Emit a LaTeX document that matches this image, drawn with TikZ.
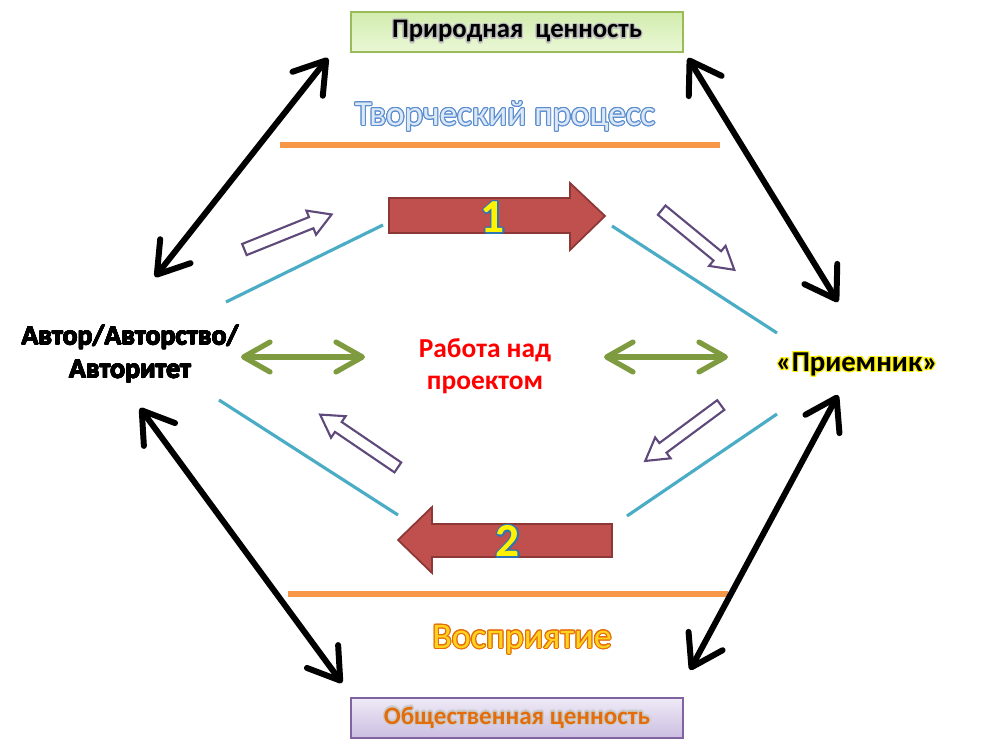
\documentclass[tikz,border=0pt]{standalone}
\usepackage{fontspec}
\setmainfont{Carlito}
\usepackage[copies]{contour}
\contourlength{0.7pt}
\usetikzlibrary{arrows.meta}

\definecolor{arrowred}{HTML}{C0504D}
\definecolor{arrowedge}{HTML}{8C3836}
\definecolor{linecyan}{HTML}{4BACC6}
\definecolor{barorange}{HTML}{F79646}
\definecolor{hollowpurple}{HTML}{5F497A}
\definecolor{olivegreen}{HTML}{7F9B3F}
\definecolor{greentop}{HTML}{D2ECAE}
\definecolor{greenbottom}{HTML}{EAF8D6}
\definecolor{greenedge}{HTML}{9BBB59}
\definecolor{lilactop}{HTML}{EFEAF6}
\definecolor{lilacbottom}{HTML}{CBBEE1}
\definecolor{lilacedge}{HTML}{8064A2}
\definecolor{textorange}{HTML}{E46C0A}
\definecolor{textyellow}{HTML}{FFD21F}
\definecolor{processfill}{HTML}{DCE8F6}
\definecolor{processedge}{HTML}{5B8ED0}
\definecolor{numberedge}{HTML}{2E75B6}

\begin{document}
\begin{tikzpicture}[x=0.02cm,y=-0.02cm,
  every node/.style={font=\bfseries},
  valuebox/.style={line width=0.8pt,minimum width=6.64cm,minimum height=0.8cm,inner sep=0pt},
  blackarr/.style={line width=3.4pt,{Straight Barb[length=17pt,width=22pt,round]}-{Straight Barb[length=17pt,width=22pt,round]}},
  greenarr/.style={line width=3pt,olivegreen,{Straight Barb[length=15pt,width=17pt,round]}-{Straight Barb[length=15pt,width=17pt,round]}},
  cyanline/.style={line width=1.8pt,linecyan},
  orangebar/.style={line width=3.6pt,barorange},
  redarrow/.style={fill=arrowred,draw=arrowedge,line width=1pt},
  hollowarr/.style={draw=hollowpurple,line width=1.2pt,fill=white,line join=miter}]
\useasboundingbox (0,0) rectangle (991,746);

% boxes and labels
\node[valuebox,draw=greenedge,top color=greentop,bottom color=greenbottom,
  font=\bfseries\fontsize{15.2}{17}\selectfont] (natural) at (517,32)
  {\contour{gray!50}{Природная\ \ ценность}};
\node[valuebox,draw=lilacedge,top color=lilactop,bottom color=lilacbottom,
  font=\bfseries\fontsize{14.3}{16}\selectfont] (social) at (517,718)
  {\color{textorange}\contour{gray!40}{Общественная ценность}};
\node[font=\mdseries\fontsize{20}{22}\selectfont] (process) at (505,117)
  {\contourlength{0.6pt}\color{processfill}\contour{processedge}{Творческий процесс}};
\node[font=\mdseries\fontsize{20.5}{22}\selectfont] (perception) at (522,640)
  {\contourlength{0.6pt}\color{textyellow}\contour{textorange}{Восприятие}};
\node[align=center,font=\bfseries\fontsize{15.8}{19}\selectfont] (author) at (130,354)
  {\contourlength{0.25pt}\contour{black}{Автор/Авторство/}\\\contourlength{0.25pt}\contour{black}{Авторитет}};
\node[align=center,text=red,font=\bfseries\fontsize{15.6}{18}\selectfont] (work) at (485,366)
  {Работа над\\проектом};
\node[font=\bfseries\fontsize{16.4}{18}\selectfont] (receiver) at (857,365)
  {\contour{yellow}{«Приемник»}};

% orange bars
\draw[orangebar] (280,145) -- (720,145);
\draw[orangebar] (288,594) -- (728,594);

% cyan lines
\draw[cyanline] (226,302) -- (383,225);
\draw[cyanline] (612,226) -- (777,333);
\draw[cyanline] (219,400) -- (398,515);
\draw[cyanline] (627,516) -- (777,414);

% red block arrows
\draw[redarrow] (389,198) -- (570,198) -- (570,183) -- (605,216) -- (570,250) -- (570,233) -- (389,233) -- cycle;
\draw[redarrow] (612,524) -- (432,524) -- (432,507) -- (398,540) -- (432,573) -- (432,557) -- (612,557) -- cycle;
\node[font=\bfseries\fontsize{27}{29}\selectfont] (one) at (493,218) {\color{yellow}\contour{numberedge}{1}};
\node[font=\bfseries\fontsize{27}{29}\selectfont] (two) at (508,542) {\color{yellow}\contour{numberedge}{2}};

% hollow arrows
\foreach \cx/\cy/\a in {288/232/21.9, 698/240/-39.4, 359/441/145.8, 683/433/-143.5}
  \draw[hollowarr,shift={(\cx,\cy)},rotate=\a]
    (-47,-6) -- (25,-6) -- (25,-13) -- (47,0) -- (25,13) -- (25,6) -- (-47,6) -- cycle;

% black double arrows
\coordinate (ul) at (155,277);
\coordinate (ut) at (328,58);
\coordinate (ur) at (838,302);
\coordinate (urt) at (688,58);
\coordinate (ll) at (140,408);
\coordinate (lb) at (342,683);
\coordinate (lr) at (838,395);
\coordinate (lrb) at (690,670);
\draw[blackarr] (ul) -- (ut);
\draw[blackarr] (urt) -- (ur);
\draw[blackarr] (ll) -- (lb);
\draw[blackarr] (lrb) -- (lr);

% green double arrows
\coordinate (gl1) at (241,357);
\coordinate (gl2) at (365,357);
\coordinate (gr1) at (604,357);
\coordinate (gr2) at (728,357);
\draw[greenarr] (gl1) -- (gl2);
\draw[greenarr] (gr1) -- (gr2);
\end{tikzpicture}
\end{document}
